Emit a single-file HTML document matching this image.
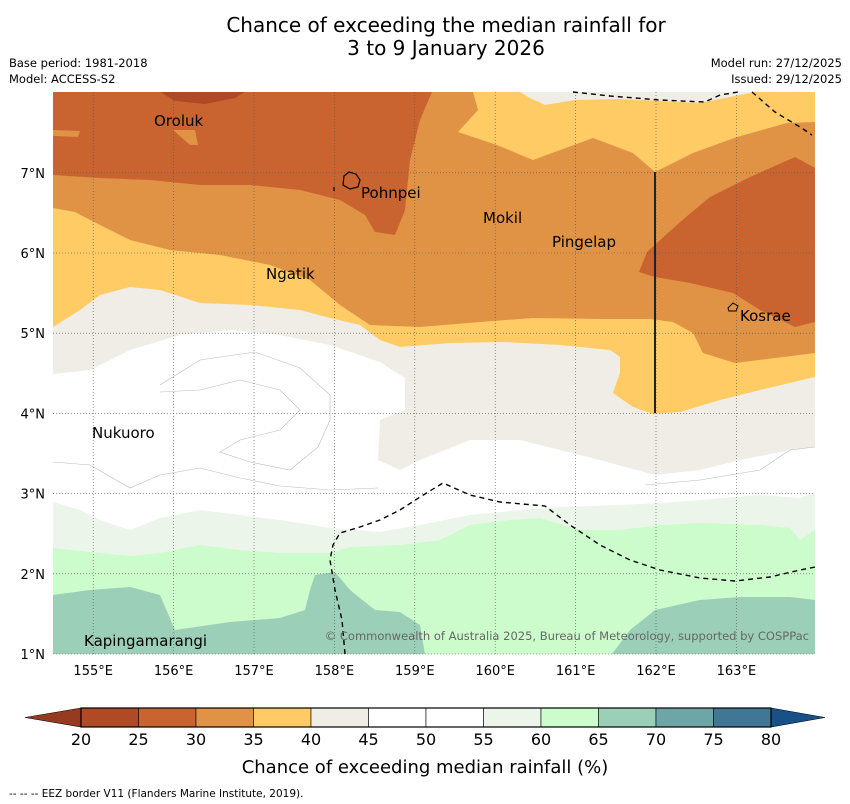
<!DOCTYPE html>
<html><head><meta charset="utf-8"><style>
body{margin:0;background:#fff;font-family:"DejaVu Sans","Liberation Sans",sans-serif;}
#wrap{position:relative;width:850px;height:804px;overflow:hidden;}
.t{position:absolute;color:#000;white-space:nowrap;}
</style></head><body>
<div id="wrap">
<div class="t" style="left:0;width:892px;text-align:center;top:14px;font-size:20px;line-height:23px;">Chance of exceeding the median rainfall for<br>3 to 9 January 2026</div>
<div class="t" style="left:9px;top:55px;font-size:11.5px;line-height:16px;">Base period: 1981-2018<br>Model: ACCESS-S2</div>
<div class="t" style="right:8px;top:55px;font-size:11.5px;line-height:16px;text-align:right;">Model run: 27/12/2025<br>Issued: 29/12/2025</div>
<svg id="map" width="850" height="804" style="position:absolute;left:0;top:0" font-family="DejaVu Sans, Liberation Sans, sans-serif">
<defs><clipPath id="cp"><rect x="53" y="92" width="762" height="562"/></clipPath></defs>
<g clip-path="url(#cp)">
<rect x="53" y="92" width="762" height="562" fill="#9ccfb8"/>
<polygon fill="#ccfccc" points="53,595 90,590 130,587 160,595 175,630 230,622 280,618 305,610 310,590 315,575 335,572 350,590 375,610 400,612 420,625 425,654 612,654 630,630 655,610 700,600 740,597 790,597 815,600 815,92 53,92"/>
<polygon fill="#ebf5ea" points="53,548 90,552 130,556 160,553 200,545 240,550 280,553 330,553 350,547 400,545 440,540 470,525 510,520 540,518 580,530 620,530 660,525 700,523 760,525 790,528 800,540 815,530 815,92 53,92"/>
<polygon fill="#ffffff" points="53,502 80,510 100,520 130,530 160,518 200,510 240,515 280,520 330,528 380,532 420,525 470,515 520,510 560,507 620,505 660,503 700,500 760,495 800,498 815,492 815,92 53,92"/>
<polygon fill="#f0ece6" points="53,374 90,370 130,350 180,335 230,330 280,335 330,345 380,362 405,378 405,410 380,420 378,460 400,470 420,460 470,440 520,440 560,450 600,460 655,475 700,470 740,460 790,450 815,447 815,92 53,92"/>
<polygon fill="#fecb64" points="53,327 80,310 100,295 130,287 160,290 200,303 250,305 300,310 330,318 360,325 380,340 400,347 450,343 503,342 560,345 610,350 620,357 620,373 613,393 633,407 653,414 680,412 720,400 760,390 815,377 815,92 53,92"/>
<polygon fill="#e09345" points="53,208 75,212 100,225 130,240 170,250 220,255 270,265 310,280 340,305 370,325 420,327 480,322 533,318 600,319 650,319 673,322 693,333 703,353 735,363 815,353 815,92 53,92"/>
<polygon fill="#fecb64" points="473,92 478,110 458,132 497,145 533,160 593,138 633,153 655,172 693,153 737,137 787,123 815,122 815,92"/>
<polygon fill="#f0ece6" points="520,92 530,98 545,105 575,100 620,99 700,103 745,94 755,92"/>
<polygon fill="#c96431" points="53,175 100,178 150,180 200,185 250,185 300,190 340,200 365,215 375,232 395,235 405,210 410,160 420,120 432,92 53,92"/>
<polygon fill="#c96431" points="639,272 647,252 680,222 710,197 750,177 795,157 815,168 815,322 795,327 760,310 733,293 690,283 655,277"/>
<polygon fill="#b04a26" points="160,92 245,92 235,98 205,104 175,101"/>
<polygon fill="#e09345" points="53,130 80,131 78,137 53,136"/>
<polygon fill="#e09345" points="173,130 195,130 198,145 190,145"/>
<polyline fill="none" stroke="#bbb" stroke-width="0.6" points="53,462 90,465 130,488 160,475 200,468 240,478 280,486 330,490 378,488"/>
<polyline fill="none" stroke="#bbb" stroke-width="0.6" points="160,385 200,360 255,352 300,368 330,395 330,420 318,447 290,470 250,462 220,452 240,440 280,430 300,410 280,390 240,380 200,390 160,392"/>
<polyline fill="none" stroke="#bbb" stroke-width="0.6" points="645,485 700,480 760,470 790,450 815,447"/>
</g>
<g id="grid" stroke="#555" stroke-width="0.6" stroke-dasharray="1,2"></g>
<polyline fill="none" stroke="#000" stroke-width="1.4" stroke-dasharray="5,4" points="345,654 342,620 335,590 330,560 333,545 340,533 360,527 380,520 400,510 420,497 443,483 470,495 500,502 545,506 570,525 600,545 630,560 660,570 700,578 735,581 770,577 800,570 815,567"/>
<polyline fill="none" stroke="#000" stroke-width="1.4" stroke-dasharray="5,4" points="573,92 610,96 660,100 705,102 720,95 738,92"/>
<polyline fill="none" stroke="#000" stroke-width="1.4" stroke-dasharray="5,4" points="752,92 775,112 800,127 812,135"/>
<line x1="655" y1="172" x2="655" y2="413" stroke="#222" stroke-width="2"/>
<path d="M344,176 L349,172 L356,174 L360,180 L358,187 L350,189 L343,185 Z M334,187 l0,4" fill="none" stroke="#000" stroke-width="1.2"/>
<path d="M728,308 L733,303 L738,306 L736,311 L729,311 Z" fill="none" stroke="#000" stroke-width="1"/>
<g font-size="15" fill="#000">
<text x="154" y="126">Oroluk</text>
<text x="361" y="198">Pohnpei</text>
<text x="483" y="223">Mokil</text>
<text x="552" y="247">Pingelap</text>
<text x="266" y="279">Ngatik</text>
<text x="740" y="321">Kosrae</text>
<text x="92" y="438">Nukuoro</text>
<text x="84" y="646">Kapingamarangi</text>
</g>
<text x="809" y="640" text-anchor="end" font-size="11.5" fill="#666">© Commonwealth of Australia 2025, Bureau of Meteorology, supported by COSPPac</text>
<g id="axes" font-size="13" fill="#000"></g>
<g id="cbar"></g>
<text x="425" y="773" text-anchor="middle" font-size="18">Chance of exceeding median rainfall (%)</text>
<text x="9" y="797" font-size="10.5">--  --  -- EEZ border V11 (Flanders Marine Institute, 2019).</text>
</svg>
</div>
<script>
const lonTicks=[155,156,157,158,159,160,161,162,163];
const latTicks=[1,2,3,4,5,6,7];
const cbLevels=[20,25,30,35,40,45,50,55,60,65,70,75,80];
const cbColors=["#b04a26","#c96431","#e09345","#fecb64","#f0ece6","#ffffff","#ffffff","#ebf5ea","#ccfccc","#9ccfb8","#6ea6a8","#417795"];
const NS="http://www.w3.org/2000/svg";
const lonX=l=>53+(l-154.5)*80.4, latY=a=>654-(a-1)*80.2;
const grid=document.getElementById('grid'), axes=document.getElementById('axes'), cb=document.getElementById('cbar');
function mk(t,a,p){const e=document.createElementNS(NS,t);for(const k in a)e.setAttribute(k,a[k]);p.appendChild(e);return e;}
lonTicks.forEach(l=>{const x=lonX(l);
 const g=mk('line',{x1:x,x2:x,y1:92,y2:654},grid);
 
 
 const t=mk('text',{x:x,y:675,'text-anchor':'middle'},axes);t.textContent=l+'°E';
 
 });
latTicks.forEach(a=>{const y=latY(a);
 const g=mk('line',{x1:53,x2:815,y1:y,y2:y},grid);
 
 
 const t=mk('text',{x:45,y:y+5,'text-anchor':'end'},axes);t.textContent=a+'°N';
 
 });
const cx0=81,cx1=771,cy=708,ch=19,w=(cx1-cx0)/cbColors.length;
cbColors.forEach((c,i)=>{const r=mk('rect',{x:cx0+i*w,y:cy,width:w,height:ch,fill:c,stroke:'#000','stroke-width':0.6},cb);
 
 });
const lt=mk('polygon',{points:`${cx0},${cy} 25,${cy+ch/2} ${cx0},${cy+ch}`,fill:'#963a20',stroke:'#000','stroke-width':0.6},cb);


const rt=mk('polygon',{points:`${cx1},${cy} 825,${cy+ch/2} ${cx1},${cy+ch}`,fill:'#185088',stroke:'#000','stroke-width':0.6},cb);


mk('rect',{x:cx0,y:cy,width:cx1-cx0,height:ch,fill:'none',stroke:'#000','stroke-width':1.2},cb);
cbLevels.forEach((v,i)=>{const t=mk('text',{x:cx0+i*w,y:745,'text-anchor':'middle','font-size':16},cb);t.textContent=v;
 
 });
</script>
</body></html>
